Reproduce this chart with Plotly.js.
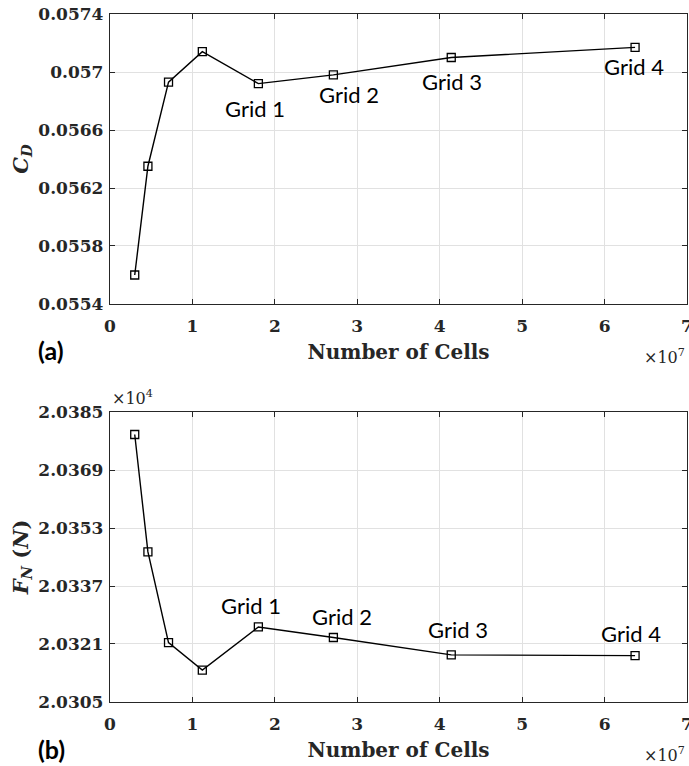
<!DOCTYPE html>
<html>
<head>
<meta charset="utf-8">
<script src="https://cdn.plot.ly/plotly-3.0.1.min.js"></script>
<style>
  html, body { margin: 0; padding: 0; background: #fff; }
  #chart { width: 689px; height: 766px; }
</style>
</head>
<body>
<div id="chart"></div>
<script>
// Mesh-independence study: drag coefficient and normal force vs. cell count
const cells = [3.0e6, 4.6e6, 7.1e6, 1.12e7, 1.80e7, 2.71e7, 4.14e7, 6.37e7];
const cd = [0.05560, 0.05635, 0.05693, 0.05714, 0.05692, 0.05698, 0.05710, 0.05717];
const fn = [20378.8, 20346.4, 20321.4, 20313.8, 20325.7, 20322.8, 20318.0, 20317.8];

// Labelled meshes (index into the arrays above)
const gridNames = ['Grid 1', 'Grid 2', 'Grid 3', 'Grid 4'];
const gridIndex = [4, 5, 6, 7];

// Axis ticks
const xTickVals = [0, 1e7, 2e7, 3e7, 4e7, 5e7, 6e7, 7e7];
const xTickText = ['0', '1', '2', '3', '4', '5', '6', '7'];
const cdTickVals = [0.0554, 0.0558, 0.0562, 0.0566, 0.0570, 0.0574];
const cdTickText = ['0.0554', '0.0558', '0.0562', '0.0566', '0.057', '0.0574'];
const fnTickVals = [20305, 20321, 20337, 20353, 20369, 20385];
const fnTickText = ['2.0305', '2.0321', '2.0337', '2.0353', '2.0369', '2.0385'];

const ink = '#262626';
const serif = 'DejaVu Serif, serif';
const sans = 'Lato, Carlito, sans-serif';

const lineStyle = {color: '#000', width: 1.4};
const markerStyle = {symbol: 'square-open', size: 8, color: '#000', line: {color: '#000', width: 1.3}};

const traces = [
  {x: cells, y: cd, xaxis: 'x', yaxis: 'y', mode: 'lines+markers',
   line: lineStyle, marker: markerStyle, hoverinfo: 'x+y'},
  {x: cells, y: fn, xaxis: 'x2', yaxis: 'y2', mode: 'lines+markers',
   line: lineStyle, marker: markerStyle, hoverinfo: 'x+y'}
];

function xAxis(anchor) {
  return {
    anchor: anchor, domain: [0, 1], range: [0, 7e7],
    tickmode: 'array', tickvals: xTickVals, ticktext: xTickText,
    ticks: 'inside', ticklen: 5, tickwidth: 1, tickcolor: ink,
    showline: true, linecolor: ink, linewidth: 1.2, mirror: 'allticks',
    showgrid: true, gridcolor: '#e1e1e1', gridwidth: 1, zeroline: false,
    tickfont: {family: serif, size: 17, color: ink, weight: 'bold'},
    ticklabelstandoff: 6, ticklabeloverflow: 'allow',
    title: {text: 'Number of Cells', standoff: 10,
            font: {family: serif, size: 20, color: ink, weight: 'bold'}}
  };
}

function yAxis(anchor, domain, range, vals, text, title) {
  return {
    anchor: anchor, domain: domain, range: range,
    tickmode: 'array', tickvals: vals, ticktext: text,
    ticks: 'inside', ticklen: 5, tickwidth: 1, tickcolor: ink,
    showline: true, linecolor: ink, linewidth: 1.2, mirror: 'allticks',
    showgrid: true, gridcolor: '#e1e1e1', gridwidth: 1, zeroline: false,
    tickfont: {family: serif, size: 17, color: ink, weight: 'bold'},
    ticklabelstandoff: 2, ticklabeloverflow: 'allow',
    title: {text: title, standoff: 4,
            font: {family: serif, size: 21, color: ink, weight: 'bold'}}
  };
}

// Mesh labels, offset from their markers
const topShift = [[-3, -25], [16, -20], [1, -24], [-1, -19]];
const botShift = [[-7, 21], [9, 21], [7, 25], [-4, 22]];

const annotations = [];
gridNames.forEach((name, k) => {
  const i = gridIndex[k];
  annotations.push({x: cells[i], y: cd[i], xref: 'x', yref: 'y', text: name,
    showarrow: false, xshift: topShift[k][0], yshift: topShift[k][1],
    font: {family: sans, size: 22, color: '#000'}});
  annotations.push({x: cells[i], y: fn[i], xref: 'x2', yref: 'y2', text: name,
    showarrow: false, xshift: botShift[k][0], yshift: botShift[k][1],
    font: {family: sans, size: 22, color: '#000'}});
});

// Axis multipliers
annotations.push({xref: 'x domain', yref: 'y domain', x: 1, y: 0, xanchor: 'right', yanchor: 'middle',
  yshift: -53, text: '×10<sup>7</sup>', showarrow: false,
  font: {family: serif, size: 16, color: ink}});
annotations.push({xref: 'x2 domain', yref: 'y2 domain', x: 1, y: 0, xanchor: 'right', yanchor: 'middle',
  yshift: -52, text: '×10<sup>7</sup>', showarrow: false,
  font: {family: serif, size: 16, color: ink}});
annotations.push({xref: 'x2 domain', yref: 'y2 domain', x: 0, y: 1, xanchor: 'left', yanchor: 'bottom',
  xshift: 0, yshift: 2, text: '×10<sup>4</sup>', showarrow: false,
  font: {family: serif, size: 16, color: ink}});

// Panel letters
annotations.push({xref: 'paper', yref: 'y domain', x: 0, y: 0, xanchor: 'center', yanchor: 'middle',
  xshift: -59, yshift: -46, text: '<b>(a)</b>', showarrow: false,
  font: {family: sans, size: 25, color: '#000'}});
annotations.push({xref: 'paper', yref: 'y2 domain', x: 0, y: 0, xanchor: 'center', yanchor: 'middle',
  xshift: -59, yshift: -47, text: '<b>(b)</b>', showarrow: false,
  font: {family: sans, size: 25, color: '#000'}});

const layout = {
  width: 689, height: 766,
  margin: {l: 110, r: 2, t: 14, b: 64},
  paper_bgcolor: '#fff', plot_bgcolor: '#fff',
  showlegend: false,
  xaxis: xAxis('y'),
  xaxis2: xAxis('y2'),
  yaxis: yAxis('x', [0.5785, 1], [0.0554, 0.0574], cdTickVals, cdTickText,
               '<i>C</i><sub><i>D</i></sub>'),
  yaxis2: yAxis('x2', [0, 0.4215], [20305, 20385], fnTickVals, fnTickText,
                '<i>F</i><sub><i>N</i></sub> (<i>N</i>)'),
  annotations: annotations
};

Plotly.newPlot('chart', traces, layout, {displayModeBar: false, staticPlot: true});
</script>
</body>
</html>
